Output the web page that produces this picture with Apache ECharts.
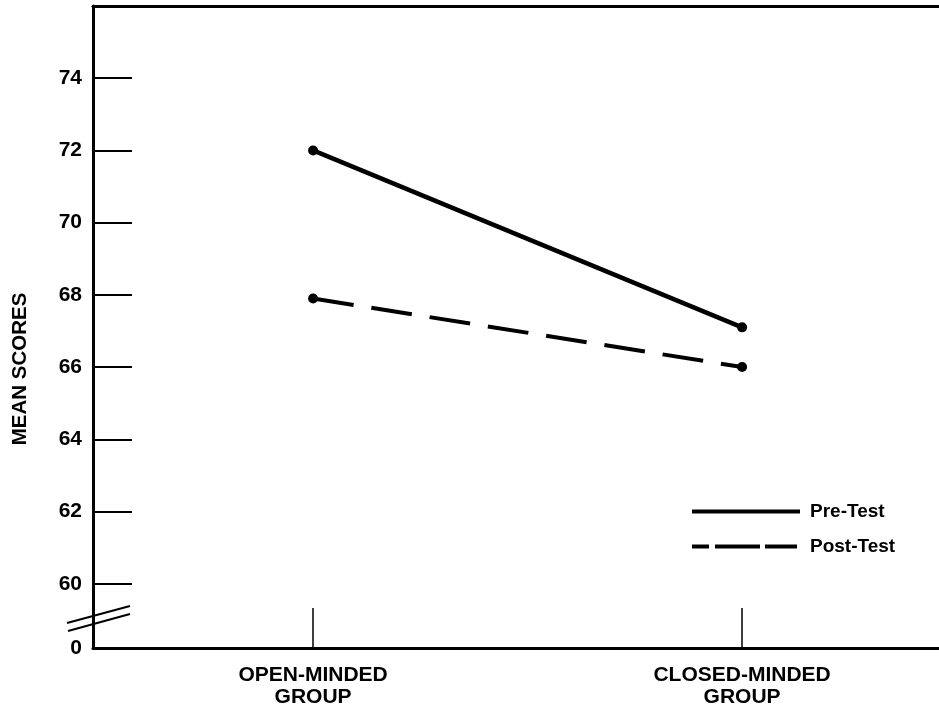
<!DOCTYPE html>
<html><head><meta charset="utf-8">
<script src="https://cdn.jsdelivr.net/npm/echarts@6/dist/echarts.min.js"></script>
<style>html,body{margin:0;padding:0;background:#fff}#c{width:939px;height:707px}</style>
</head><body><div id="c"></div>
<script>
const categories = ['OPEN-MINDED\nGROUP', 'CLOSED-MINDED\nGROUP'];
const seriesNames = ['Pre-Test', 'Post-Test'];
const preTest = [72.0, 67.1];
const postTest = [67.9, 66.0];
const yTickValues = [60, 62, 64, 66, 68, 70, 72, 74];
const yBreakLabel = '0';
const yAxisTitle = 'MEAN SCORES';

const Y_MIN = 58.22, Y_MAX = 76;
const X_MIN = 0.487, X_MAX = 2.459;
const FONT = "'Liberation Sans', Arial, sans-serif";

const chart = echarts.init(document.getElementById('c'), null, {renderer: 'canvas'});
const txt = {fontFamily: FONT, fontWeight: 'bold', color: '#000', fontSize: 19};

chart.setOption({
  animation: false,
  backgroundColor: '#fff',
  grid: {left: 93, right: 0, top: 6, bottom: 59, containLabel: false, outerBoundsMode: 'none'},
  xAxis: [{
    type: 'value', min: X_MIN, max: X_MAX, position: 'bottom',
    axisLine: {show: true, onZero: false, lineStyle: {color: '#000', width: 3}},
    axisTick: {show: true, inside: true, length: 40, customValues: [1, 2], lineStyle: {color: '#000', width: 1.5}},
    axisLabel: Object.assign({customValues: [1, 2], margin: 16, lineHeight: 22, align: 'center',
      formatter: v => categories[Math.round(v) - 1] || ''}, txt, {fontSize: 21}),
    splitLine: {show: false}
  }, {
    type: 'value', min: X_MIN, max: X_MAX, position: 'top',
    axisLine: {show: true, onZero: false, lineStyle: {color: '#000', width: 3}},
    axisTick: {show: false}, axisLabel: {show: false}, splitLine: {show: false}
  }],
  yAxis: {
    type: 'value', min: Y_MIN, max: Y_MAX,
    axisLine: {show: true, onZero: false, lineStyle: {color: '#000', width: 3}},
    axisTick: {show: true, inside: true, length: 39, customValues: yTickValues, lineStyle: {color: '#000', width: 2}},
    axisLabel: Object.assign({customValues: [Y_MIN].concat(yTickValues), margin: 11,
      formatter: v => Math.abs(v - Y_MIN) < 0.01 ? yBreakLabel : String(v)}, txt, {fontSize: 21}),
    splitLine: {show: false},
    name: yAxisTitle, nameLocation: 'middle', nameGap: 62,
    nameTextStyle: Object.assign({padding: [0, 84, 0, 0]}, txt, {fontSize: 20.5})
  },
  legend: {
    orient: 'vertical', left: 690, top: 502, padding: 0, itemWidth: 108, itemHeight: 14, itemGap: 16,
    itemStyle: {opacity: 0}, lineStyle: {width: 4},
    textStyle: Object.assign({padding: [0, 0, 0, 5]}, txt),
    data: [{name: seriesNames[0]}, {name: seriesNames[1], lineStyle: {type: [17, 6, 45, 5, 32, 3]}}]
  },
  graphic: [
    {type: 'line', shape: {x1: 67, y1: 623, x2: 130, y2: 606}, style: {stroke: '#000', lineWidth: 2}},
    {type: 'line', shape: {x1: 68, y1: 631, x2: 130, y2: 614}, style: {stroke: '#000', lineWidth: 2}}
  ],
  series: [{
    name: seriesNames[0], type: 'line', xAxisIndex: 0,
    data: preTest.map((v, i) => [i + 1, v]),
    symbol: 'circle', symbolSize: 10,
    lineStyle: {color: '#000', width: 4.5}, itemStyle: {color: '#000'}
  }, {
    name: seriesNames[1], type: 'line', xAxisIndex: 0,
    data: postTest.map((v, i) => [i + 1, v]),
    symbol: 'circle', symbolSize: 10,
    lineStyle: {color: '#000', width: 4, type: [41, 18]}, itemStyle: {color: '#000'}
  }]
});
</script></body></html>
